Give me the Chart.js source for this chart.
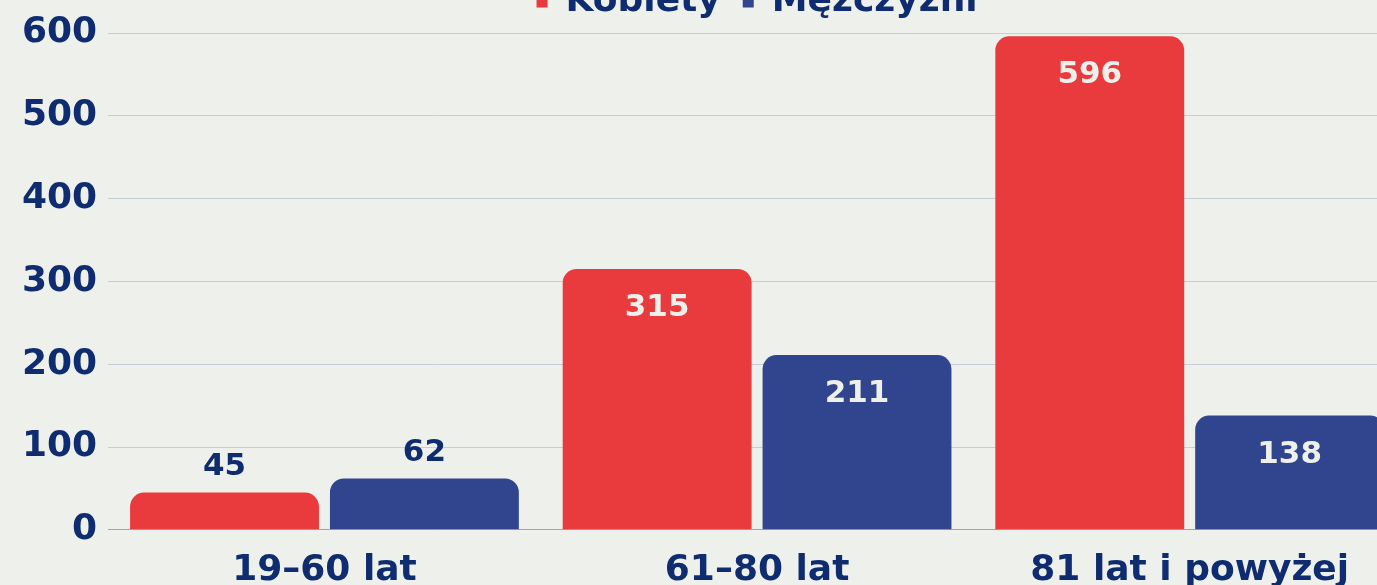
<!DOCTYPE html>
<html lang="pl">
<head>
    <meta charset="UTF-8">
    <title>Kobiety i mężczyźni według wieku</title>
    <script src="https://cdn.jsdelivr.net/npm/chart.js"></script>
    <style>
        html, body { margin: 0; padding: 0; background: #eef0eb; overflow: hidden; width: 1377px; height: 585px; }
        #wrap { position: absolute; left: 0; top: -38px; width: 1504px; height: 649px; }
    </style>
</head>
<body>
    <div id="wrap"><canvas id="wykres"></canvas></div>

    <script>
        // dane
        const kategorie = ['19–60 lat', '61–80 lat', '81 lat i powyżej'];
        const kobiety = [45, 315, 596];
        const mezczyzni = [62, 211, 138];
        const osY = [0, 100, 200, 300, 400, 500, 600];

        const granat = '#0e2c6f';
        const tlo = '#eef0eb';

        // etykiety wartości na słupkach
        const etykiety = {
            id: 'etykiety',
            afterDatasetsDraw(chart) {
                const ctx = chart.ctx;
                chart.data.datasets.forEach((ds, i) => {
                    chart.getDatasetMeta(i).data.forEach((bar, j) => {
                        const v = ds.data[j];
                        const wSrodku = v >= 100;
                        ctx.save();
                        ctx.font = 'bold 31px "DejaVu Sans"';
                        ctx.textAlign = 'center';
                        ctx.textBaseline = 'middle';
                        ctx.fillStyle = wSrodku ? tlo : granat;
                        ctx.fillText(String(v), bar.x, wSrodku ? bar.y + 39 : bar.y - 26);
                        ctx.restore();
                    });
                });
            }
        };

        // dodatkowy odstęp pod legendą
        const odstepLegendy = {
            id: 'odstepLegendy',
            beforeInit(chart) {
                const fit = chart.legend.fit;
                chart.legend.fit = function () {
                    fit.call(this);
                    this.height += 3;
                };
            }
        };

        new Chart(document.getElementById('wykres'), {
            type: 'bar',
            data: {
                labels: kategorie,
                datasets: [{
                    label: 'Kobiety',
                    data: kobiety,
                    backgroundColor: '#e93b3d',
                    borderRadius: 14,
                    categoryPercentage: 0.924,
                    barPercentage: 0.945
                }, {
                    label: 'Mężczyźni',
                    data: mezczyzni,
                    backgroundColor: '#31448e',
                    borderRadius: 14,
                    categoryPercentage: 0.924,
                    barPercentage: 0.945
                }]
            },
            options: {
                responsive: true,
                maintainAspectRatio: false,
                animation: false,
                layout: { padding: { left: 11, right: 98, top: 0, bottom: 0 } },
                plugins: {
                    legend: {
                        position: 'top',
                        fullSize: false,
                        labels: {
                            color: granat,
                            boxWidth: 11,
                            boxHeight: 11,
                            padding: 22,
                            font: { family: 'DejaVu Sans', size: 36, weight: 'bold' }
                        }
                    },
                    tooltip: { enabled: false }
                },
                scales: {
                    x: {
                        grid: { display: false, drawTicks: false },
                        border: { color: '#9aa6bf', width: 1 },
                        ticks: {
                            color: granat,
                            padding: 19,
                            font: { family: 'DejaVu Sans', size: 36, weight: 'bold' }
                        }
                    },
                    y: {
                        min: osY[0],
                        max: osY[osY.length - 1],
                        afterBuildTicks: (axis) => { axis.ticks = osY.map(v => ({ value: v })); },
                        grid: { color: '#c5cddb', drawTicks: false },
                        border: { display: false },
                        ticks: {
                            color: granat,
                            padding: 11,
                            font: { family: 'DejaVu Sans', size: 36, weight: 'bold' }
                        }
                    }
                }
            },
            plugins: [etykiety, odstepLegendy]
        });
    </script>
</body>
</html>
